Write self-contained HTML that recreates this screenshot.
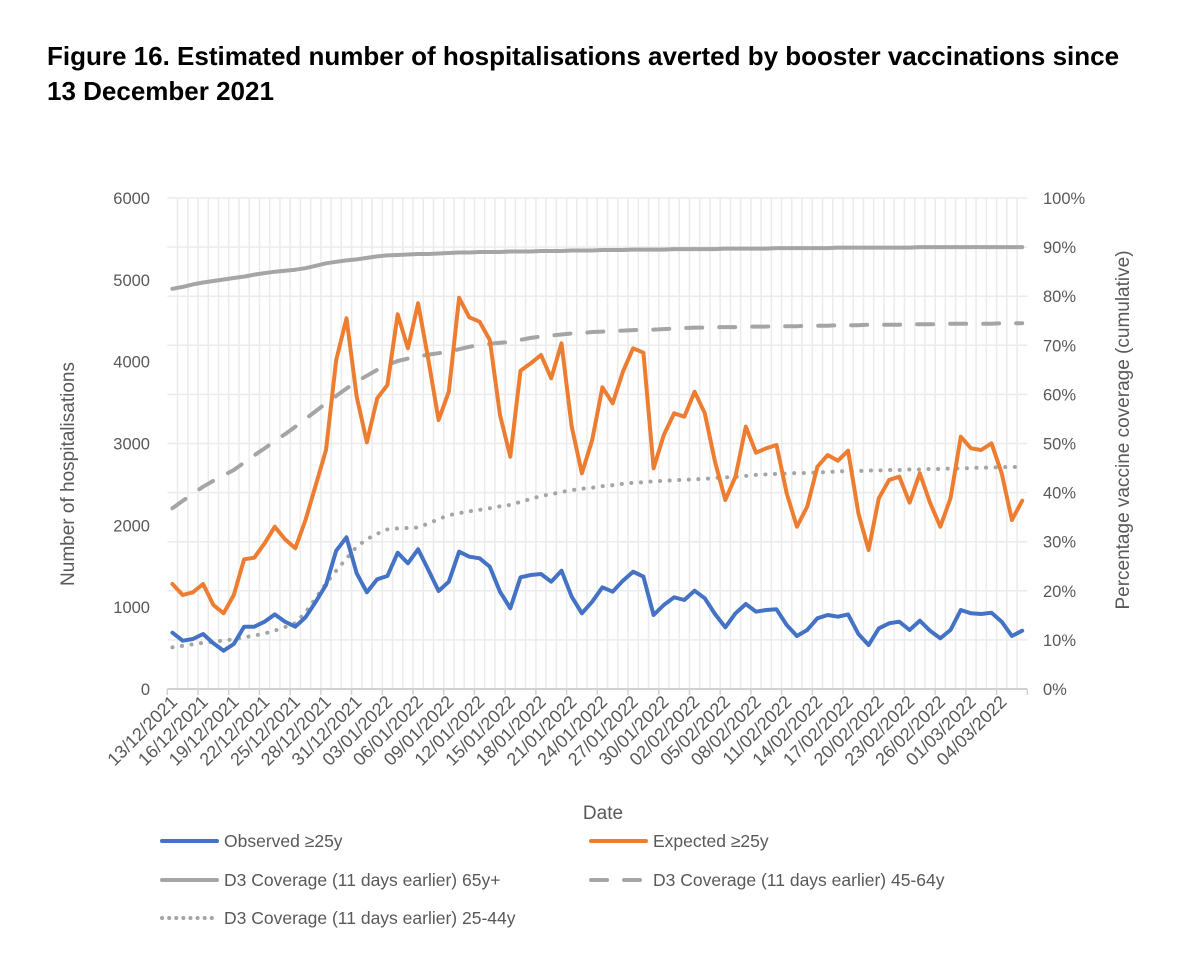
<!DOCTYPE html>
<html><head><meta charset="utf-8"><style>
body{margin:0;background:#fff;width:1200px;height:959px;overflow:hidden;font-family:"Liberation Sans",Arial,sans-serif}
#title{position:absolute;left:47px;top:39px;font-weight:bold;font-size:26px;line-height:35px;color:#000;white-space:nowrap}
svg{position:absolute;left:0;top:0}
text{font-family:"Liberation Sans",Arial,sans-serif;fill:#595959}
</style></head><body>
<div id="title">Figure 16. Estimated number of hospitalisations averted by booster vaccinations since<br>13 December 2021</div>
<svg id="chart" width="1200" height="959"></svg>
<script>
const observed=[688,590,611,672,558,468,550,761,761,822,912,822,761,876,1067,1271,1690,1854,1414,1182,1340,1381,1666,1536,1707,1454,1198,1311,1678,1617,1597,1495,1189,986,1365,1393,1405,1311,1446,1128,925,1067,1243,1189,1324,1434,1373,904,1026,1120,1088,1201,1108,917,754,925,1039,945,965,974,782,648,721,864,904,884,912,672,538,741,803,822,721,835,712,620,721,965,925,917,932,822,648,712];
const expected=[1283,1149,1182,1283,1026,925,1149,1585,1605,1780,1983,1829,1719,2065,2493,2921,4020,4530,3572,3015,3552,3715,4579,4163,4713,4020,3287,3633,4780,4542,4489,4265,3348,2839,3890,3980,4082,3797,4225,3206,2636,3043,3687,3491,3878,4163,4110,2697,3104,3369,3328,3633,3369,2778,2310,2595,3206,2888,2941,2982,2391,1983,2228,2717,2860,2790,2912,2147,1699,2330,2554,2595,2277,2636,2277,1983,2330,3083,2941,2921,3003,2636,2065,2301];
const cov65=[81.5,81.9,82.4,82.8,83.1,83.4,83.7,84.0,84.4,84.7,85.0,85.2,85.4,85.7,86.2,86.7,87.0,87.3,87.5,87.8,88.1,88.3,88.4,88.5,88.6,88.6,88.7,88.8,88.9,88.9,89.0,89.0,89.0,89.1,89.1,89.1,89.2,89.2,89.2,89.3,89.3,89.3,89.4,89.4,89.4,89.5,89.5,89.5,89.5,89.6,89.6,89.6,89.6,89.6,89.7,89.7,89.7,89.7,89.7,89.8,89.8,89.8,89.8,89.8,89.8,89.9,89.9,89.9,89.9,89.9,89.9,89.9,89.9,90.0,90.0,90.0,90.0,90.0,90.0,90.0,90.0,90.0,90.0,90.0];
const cov4564=[36.8,38.3,39.8,41.2,42.4,43.5,44.6,46.1,47.6,49.0,50.5,51.9,53.4,55.0,56.6,58.2,59.7,61.2,62.6,63.8,65.0,66.0,66.8,67.3,67.7,68.1,68.4,68.7,69.2,69.7,70.1,70.3,70.5,70.7,71.1,71.5,71.8,72.0,72.2,72.4,72.5,72.7,72.8,72.9,73.0,73.1,73.2,73.2,73.3,73.4,73.5,73.6,73.6,73.7,73.7,73.7,73.8,73.8,73.8,73.9,73.9,73.9,74.0,74.0,74.0,74.1,74.1,74.1,74.2,74.2,74.2,74.2,74.3,74.3,74.3,74.3,74.4,74.4,74.4,74.4,74.4,74.5,74.5,74.5];
const cov2544=[8.5,8.8,9.1,9.4,9.6,9.9,10.1,10.5,10.9,11.3,11.9,12.6,13.4,15.6,18.5,21.5,24.1,26.6,29.0,30.5,31.6,32.5,32.7,32.8,32.9,33.7,34.6,35.4,35.8,36.2,36.5,36.8,37.2,37.5,38.1,38.7,39.3,39.7,40.1,40.5,40.8,41.0,41.3,41.5,41.8,42.0,42.1,42.3,42.4,42.5,42.6,42.7,42.8,43.0,43.1,43.2,43.4,43.6,43.7,43.8,43.9,44.0,44.0,44.1,44.2,44.3,44.4,44.4,44.5,44.5,44.6,44.6,44.7,44.7,44.8,44.8,44.9,44.9,45.0,45.1,45.1,45.2,45.2,45.3];
const yTicks=[0,1000,2000,3000,4000,5000,6000];
const pctTicks=[0,10,20,30,40,50,60,70,80,90,100];
const startDate=new Date(2021,11,13);

const NS="http://www.w3.org/2000/svg";
const svg=document.getElementById('chart');
const X0=167.3,X1=1027.3,Y0=689,Y1=198,N=expected.length;
const step=(X1-X0)/N;
function xOf(i){return X0+(i+0.5)*step;}
function yL(v){return Y0-(v/6000)*(Y0-Y1);}
function yR(p){return Y0-(p/100)*(Y0-Y1);}
function mk(tag,attrs,parent){const e=document.createElementNS(NS,tag);for(const k in attrs)e.setAttribute(k,attrs[k]);(parent||svg).appendChild(e);return e;}

const grid=mk('g',{});


for(let i=1;i<N;i++){mk('line',{x1:X0+i*step,x2:X0+i*step,y1:Y1,y2:Y0,stroke:'#ebebeb','stroke-width':1.5},grid);}
pctTicks.forEach(p=>{if(p>0)mk('line',{x1:X0,x2:X1,y1:yR(p),y2:yR(p),stroke:'#ebebeb','stroke-width':1.5},grid);});
const ax=mk('line',{x1:X0,x2:X1,y1:Y0,y2:Y0,stroke:'#d0d0d0','stroke-width':2});


for(let i=0;i<=N;i+=3){mk('line',{x1:X0+i*step,x2:X0+i*step,y1:Y0,y2:Y0+6,stroke:'#d0d0d0','stroke-width':1.5});}

yTicks.forEach(v=>{const t=mk('text',{x:150,y:yL(v)+6,'text-anchor':'end','font-size':16.5});t.textContent=v;

});
pctTicks.forEach(p=>{const t=mk('text',{x:1043,y:yR(p)+6,'font-size':16.5});t.textContent=p+'%';

});
for(let i=0;i<N;i+=3){const d=new Date(startDate.getTime());d.setDate(d.getDate()+i);
const s=String(d.getDate()).padStart(2,'0')+'/'+String(d.getMonth()+1).padStart(2,'0')+'/'+d.getFullYear();
const x=xOf(i)+6,y=Y0+14;
const t=mk('text',{x:x,y:y,'text-anchor':'end','font-size':18,transform:`rotate(-45 ${x} ${y})`});t.textContent=s;

}

let t=mk('text',{x:74,y:474,'text-anchor':'middle','font-size':19,transform:'rotate(-90 74 474)'});t.textContent='Number of hospitalisations';


t=mk('text',{x:1129,y:430,'text-anchor':'middle','font-size':19,transform:'rotate(-90 1129 430)'});t.textContent='Percentage vaccine coverage (cumulative)';


t=mk('text',{x:603,y:819,'text-anchor':'middle','font-size':19});t.textContent='Date';



function line(arr,yf,color,dash,cap,name){
  const d=arr.map((v,i)=>(i?'L':'M')+xOf(i).toFixed(1)+' '+yf(v).toFixed(1)).join(' ');
  const p=mk('path',{d:d,fill:'none',stroke:color,'stroke-width':4,'stroke-linejoin':'round','stroke-linecap':cap});
  if(dash)p.setAttribute('stroke-dasharray',dash);
  
  
}
line(cov65,yR,'#a5a5a5',null,'round','line-coverage-65plus');
line(cov4564,yR,'#a5a5a5','16 17','round','line-coverage-45-64');
line(cov2544,yR,'#a5a5a5','0.1 9.5','round','line-coverage-25-44');
line(expected,yL,'#ed7d31',null,'round','line-expected');
line(observed,yL,'#4472c4',null,'round','line-observed');

const legend=[
 [160,841,'#4472c4',null,'Observed ≥25y','legend-observed'],
 [589,841,'#ed7d31',null,'Expected ≥25y','legend-expected'],
 [160,880,'#a5a5a5',null,'D3 Coverage (11 days earlier) 65y+','legend-coverage-65plus'],
 [589,880,'#a5a5a5','16 17','D3 Coverage (11 days earlier) 45-64y','legend-coverage-45-64'],
 [160,918,'#a5a5a5','0.1 7','D3 Coverage (11 days earlier) 25-44y','legend-coverage-25-44']];
legend.forEach(l=>{
  const g=mk('g',{});
  
  
  const ln=mk('line',{x1:l[0]+2,x2:l[0]+57,y1:l[1],y2:l[1],stroke:l[2],'stroke-width':4,'stroke-linecap':'round'},g);
  if(l[3])ln.setAttribute('stroke-dasharray',l[3]);
  const tx=mk('text',{x:l[0]+64,y:l[1]+6,'font-size':17.5},g);tx.textContent=l[4];
});
</script>
</body></html>
